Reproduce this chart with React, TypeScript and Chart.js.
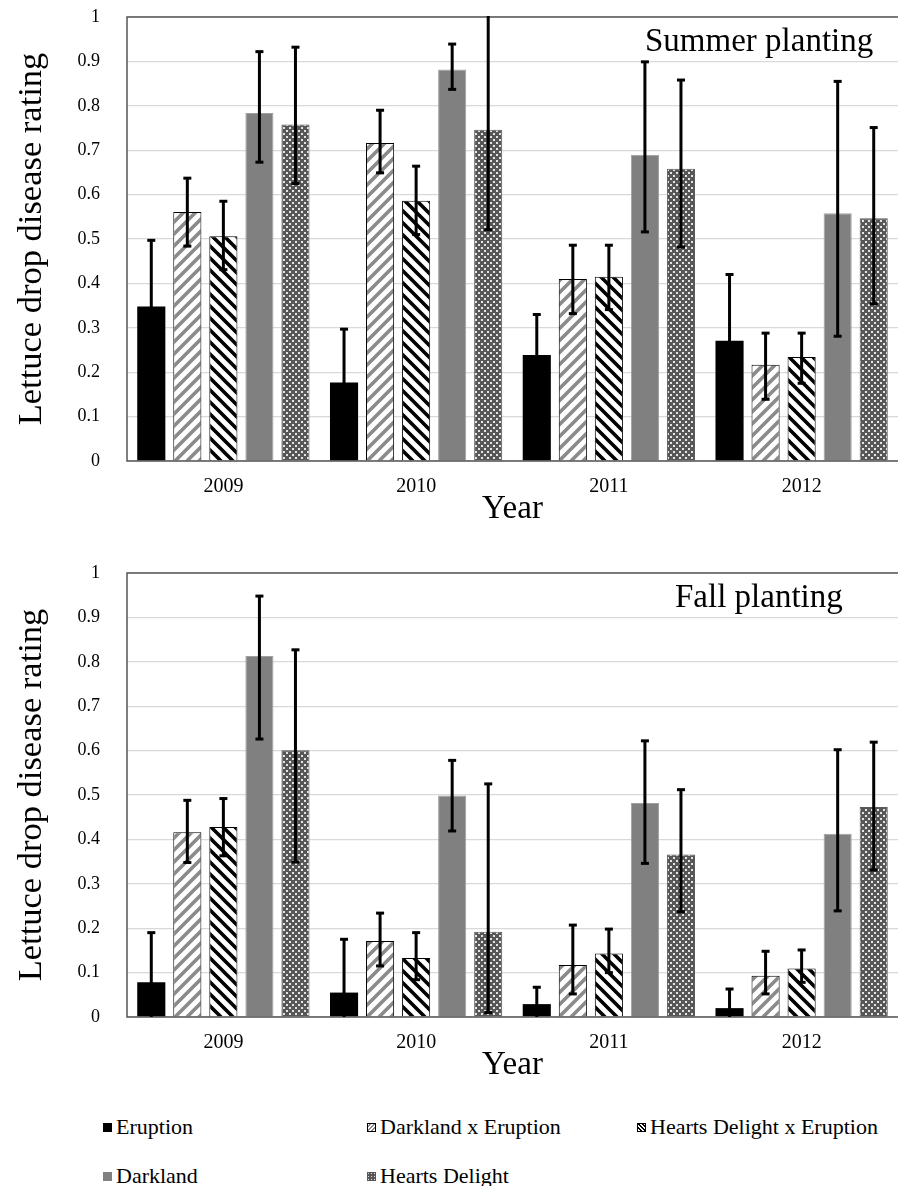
import React, { useEffect, useRef } from 'react';
import { Chart, registerables } from 'chart.js';

Chart.register(...registerables);

const FONT = "'Liberation Serif', 'Times New Roman', serif";

const years = ['2009', '2010', '2011', '2012'];
const seriesNames = ['Eruption', 'Darkland x Eruption', 'Hearts Delight x Eruption', 'Darkland', 'Hearts Delight'];
const yTickLabels = ['0', '0.1', '0.2', '0.3', '0.4', '0.5', '0.6', '0.7', '0.8', '0.9', '1'];
const yTitle = 'Lettuce drop disease rating';
const xTitle = 'Year';
const summerTitle = 'Summer planting';
const fallTitle = 'Fall planting';

// Summer planting: means, upper and lower error bar ends
const summerEruption = [0.348, 0.177, 0.239, 0.271];
const summerEruptionHi = [0.497, 0.297, 0.330, 0.420];
const summerEruptionLo = [0.199, 0.057, 0.148, 0.122];
const summerDxE = [0.561, 0.716, 0.410, 0.217];
const summerDxEHi = [0.637, 0.790, 0.486, 0.288];
const summerDxELo = [0.484, 0.649, 0.332, 0.139];
const summerHDxE = [0.506, 0.586, 0.415, 0.234];
const summerHDxEHi = [0.585, 0.664, 0.486, 0.288];
const summerHDxELo = [0.431, 0.510, 0.341, 0.175];
const summerDarkland = [0.784, 0.882, 0.690, 0.558];
const summerDarklandHi = [0.922, 0.939, 0.899, 0.855];
const summerDarklandLo = [0.673, 0.837, 0.516, 0.281];
const summerHD = [0.758, 0.746, 0.658, 0.547];
const summerHDHi = [0.932, 1.05, 0.858, 0.751];
const summerHDLo = [0.625, 0.521, 0.482, 0.354];

// Fall planting
const fallEruption = [0.078, 0.055, 0.029, 0.020];
const fallEruptionHi = [0.190, 0.175, 0.067, 0.063];
const fallEruptionLo = [0.0, 0.0, 0.0, 0.0];
const fallDxE = [0.416, 0.171, 0.117, 0.093];
const fallDxEHi = [0.488, 0.234, 0.207, 0.148];
const fallDxELo = [0.348, 0.115, 0.052, 0.052];
const fallHDxE = [0.428, 0.133, 0.143, 0.109];
const fallHDxEHi = [0.492, 0.190, 0.198, 0.151];
const fallHDxELo = [0.363, 0.084, 0.100, 0.078];
const fallDarkland = [0.813, 0.499, 0.482, 0.413];
const fallDarklandHi = [0.948, 0.578, 0.622, 0.602];
const fallDarklandLo = [0.626, 0.419, 0.346, 0.239];
const fallHD = [0.601, 0.192, 0.366, 0.473];
const fallHDHi = [0.827, 0.525, 0.512, 0.619];
const fallHDLo = [0.349, 0.010, 0.237, 0.331];

const summerValues = [summerEruption, summerDxE, summerHDxE, summerDarkland, summerHD];
const summerHi = [summerEruptionHi, summerDxEHi, summerHDxEHi, summerDarklandHi, summerHDHi];
const summerLo = [summerEruptionLo, summerDxELo, summerHDxELo, summerDarklandLo, summerHDLo];
const fallValues = [fallEruption, fallDxE, fallHDxE, fallDarkland, fallHD];
const fallHi = [fallEruptionHi, fallDxEHi, fallHDxEHi, fallDarklandHi, fallHDHi];
const fallLo = [fallEruptionLo, fallDxELo, fallHDxELo, fallDarklandLo, fallHDLo];

function stripePattern(ctx: CanvasRenderingContext2D, color: string, forward: boolean) {
  const size = 12;
  const c = document.createElement('canvas');
  c.width = size;
  c.height = size;
  const g = c.getContext('2d')!;
  g.fillStyle = '#ffffff';
  g.fillRect(0, 0, size, size);
  g.strokeStyle = color;
  g.lineWidth = 3.6;
  g.beginPath();
  for (const o of [-size, 0, size]) {
    if (forward) {
      g.moveTo(o - 2, size + 2);
      g.lineTo(o + size + 2, -2);
    } else {
      g.moveTo(o - 2, -2);
      g.lineTo(o + size + 2, size + 2);
    }
  }
  g.stroke();
  return ctx.createPattern(c, 'repeat')!;
}

function dotPattern(ctx: CanvasRenderingContext2D) {
  const size = 6;
  const c = document.createElement('canvas');
  c.width = size;
  c.height = size;
  const g = c.getContext('2d')!;
  g.fillStyle = '#575757';
  g.fillRect(0, 0, size, size);
  g.fillStyle = '#e4e4e4';
  g.fillRect(1, 1, 2, 2);
  g.fillRect(4, 4, 2, 2);
  return ctx.createPattern(c, 'repeat')!;
}

const errorBarPlugin = {
  id: 'errorBars',
  afterDatasetsDraw(chart: any) {
    const { ctx, chartArea, scales } = chart;
    const y = scales.y;
    ctx.save();
    // frame
    ctx.strokeStyle = '#555555';
    ctx.lineWidth = 1.5;
    ctx.strokeRect(chartArea.left, chartArea.top, chartArea.right - chartArea.left + 2, chartArea.bottom - chartArea.top);
    ctx.beginPath();
    ctx.rect(chartArea.left, chartArea.top - 1, chartArea.right - chartArea.left, chartArea.bottom - chartArea.top + 2);
    ctx.clip();
    ctx.strokeStyle = '#000000';
    ctx.lineWidth = 3;
    chart.data.datasets.forEach((ds: any, di: number) => {
      const meta = chart.getDatasetMeta(di);
      meta.data.forEach((el: any, i: number) => {
        const hi = ds.errHi[i];
        const lo = ds.errLo[i];
        const x = el.x;
        const yh = y.getPixelForValue(hi);
        const yl = y.getPixelForValue(lo);
        ctx.beginPath();
        ctx.moveTo(x, yl);
        ctx.lineTo(x, yh);
        ctx.stroke();
        const caps: [number, number][] = [[hi, yh], [lo, yl]];
        for (const [v, py] of caps) {
          if (v <= 1 && v > 0) {
            ctx.beginPath();
            ctx.moveTo(x - 4, py);
            ctx.lineTo(x + 4, py);
            ctx.stroke();
          }
        }
      });
    });
    ctx.restore();
  },
};

function makeChart(canvas: HTMLCanvasElement, values: number[][], his: number[][], los: number[][]) {
  const ctx = canvas.getContext('2d')!;
  const fills: any[] = [
    '#000000',
    stripePattern(ctx, '#8a8a8a', true),
    stripePattern(ctx, '#000000', false),
    '#808080',
    dotPattern(ctx),
  ];
  const borders = ['#000000', '#000000', '#000000', '#a0a0a0', '#5a5a5a'];
  const widths = [0, 1, 1, 1, 1];
  return new Chart(ctx, {
    type: 'bar',
    data: {
      labels: years,
      datasets: seriesNames.map((name, i) => ({
        label: name,
        data: values[i],
        errHi: his[i],
        errLo: los[i],
        backgroundColor: fills[i],
        borderColor: borders[i],
        borderWidth: widths[i],
        categoryPercentage: 0.935,
        barPercentage: 0.78,
      })) as any,
    },
    options: {
      responsive: false,
      animation: false,
      devicePixelRatio: 1,
      layout: { padding: { top: 17, left: 0, right: 0, bottom: 0 } },
      plugins: { legend: { display: false }, tooltip: { enabled: false } },
      scales: {
        x: {
          grid: { display: false, drawTicks: false },
          border: { display: false },
          ticks: { color: '#000', padding: 14, font: { family: FONT, size: 20 } },
          title: {
            display: true,
            text: xTitle,
            color: '#000',
            font: { family: FONT, size: 33 },
            padding: { top: 0, bottom: 16 },
          },
          afterFit: (s: any) => {
            s.height = 84;
            s.paddingLeft = 0;
            s.paddingRight = 0;
          },
        },
        y: {
          min: 0,
          max: 1,
          grid: { color: '#d9d9d9', lineWidth: 1.2, drawTicks: false },
          border: { display: false },
          ticks: {
            stepSize: 0.1,
            padding: 27,
            color: '#000',
            font: { family: FONT, size: 18 },
            callback: (_v: any, i: number) => yTickLabels[i],
          },
          title: {
            display: true,
            text: yTitle,
            color: '#000',
            font: { family: FONT, size: 34.5 },
            padding: { top: 11, bottom: 0 },
          },
          afterFit: (s: any) => {
            s.width = 127;
            s.paddingTop = 0;
            s.paddingBottom = 0;
          },
        },
      },
    },
    plugins: [errorBarPlugin],
  } as any);
}

function Panel({ values, his, los, top, title, titleLeft, titleTop }: any) {
  const ref = useRef<HTMLCanvasElement>(null);
  useEffect(() => {
    const chart = makeChart(ref.current!, values, his, los);
    return () => chart.destroy();
  }, []);
  return (
    <>
      <canvas ref={ref} width={898} height={545} style={{ position: 'absolute', left: 0, top, width: 898, height: 545 }} />
      <div
        style={{
          position: 'absolute',
          left: titleLeft,
          top: titleTop,
          fontFamily: FONT,
          fontSize: 33,
          lineHeight: '33px',
          whiteSpace: 'nowrap',
          color: '#000',
        }}
      >
        {title}
      </div>
    </>
  );
}

const swatchStyles: React.CSSProperties[] = [
  { background: '#000' },
  {
    background: 'repeating-linear-gradient(-45deg, #fff 0px, #fff 1.5px, #8a8a8a 1.5px, #8a8a8a 3px)',
    border: '1px solid #000',
  },
  {
    background: 'repeating-linear-gradient(45deg, #fff 0px, #fff 1.5px, #000 1.5px, #000 3px)',
    border: '1px solid #000',
  },
  { background: '#808080' },
  { background: 'radial-gradient(circle, #ddd 0.8px, #575757 1px) 0 0 / 3px 3px' },
];

const legendPos = [
  { x: 103, y: 1123 },
  { x: 367, y: 1123 },
  { x: 637, y: 1123 },
  { x: 103, y: 1172 },
  { x: 367, y: 1172 },
];

export default function App() {
  return (
    <div style={{ position: 'absolute', left: 0, top: 0, width: 898, height: 1186, background: '#fff', overflow: 'hidden' }}>
      <Panel values={summerValues} his={summerHi} los={summerLo} top={0} title={summerTitle} titleLeft={645} titleTop={24} />
      <Panel values={fallValues} his={fallHi} los={fallLo} top={556} title={fallTitle} titleLeft={675} titleTop={580} />
      {seriesNames.map((name, i) => (
        <div key={name}>
          <div
            style={{
              position: 'absolute',
              left: legendPos[i].x,
              top: legendPos[i].y,
              width: 9,
              height: 9,
              boxSizing: 'border-box',
              ...swatchStyles[i],
            }}
          />
          <div
            style={{
              position: 'absolute',
              left: legendPos[i].x + 13,
              top: legendPos[i].y - 7,
              fontFamily: FONT,
              fontSize: 22,
              lineHeight: '22px',
              whiteSpace: 'nowrap',
              color: '#000',
            }}
          >
            {name}
          </div>
        </div>
      ))}
    </div>
  );
}
